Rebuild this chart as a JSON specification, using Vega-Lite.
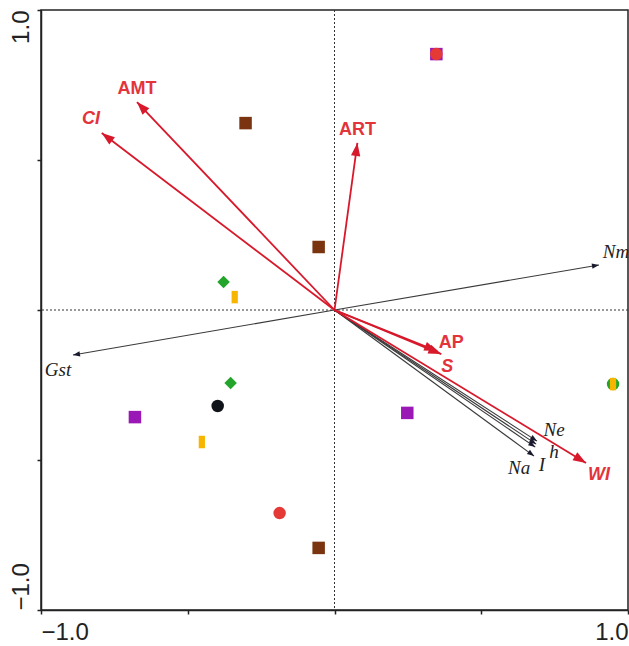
{
  "$schema": "https://vega.github.io/schema/vega-lite/v6.json",
  "width": 587,
  "height": 600,
  "autosize": {"type": "none"},
  "padding": {"left": 41, "top": 10, "right": 1, "bottom": 36},
  "config": {
    "view": {"stroke": "#222", "strokeWidth": 1.5},
    "axis": {
      "grid": false,
      "domainColor": "#222",
      "domainWidth": 1.5,
      "tickColor": "#222",
      "tickWidth": 1.5,
      "tickSize": 4,
      "labelFont": "Liberation Sans",
      "labelFontSize": 24,
      "labelColor": "#222",
      "labelOverlap": false,
      "title": null
    }
  },
  "datasets": {
    "env": [
      {"name": "AMT", "x": -0.673, "y": 0.693, "lx": -0.673, "ly": 0.737},
      {"name": "CI", "x": -0.793, "y": 0.59, "lx": -0.83, "ly": 0.637},
      {"name": "ART", "x": 0.078, "y": 0.557, "lx": 0.078, "ly": 0.6},
      {"name": "AP", "x": 0.364, "y": -0.147, "lx": 0.398, "ly": -0.11},
      {"name": "S", "x": 0.35, "y": -0.137, "lx": 0.384, "ly": -0.19},
      {"name": "WI", "x": 0.857, "y": -0.51, "lx": 0.901, "ly": -0.55}
    ],
    "gen": [
      {"name": "Nm", "x": 0.901, "y": 0.15, "lx": 0.959, "ly": 0.193},
      {"name": "Gst", "x": -0.891, "y": -0.15, "lx": -0.942, "ly": -0.2},
      {"name": "Ne", "x": 0.69, "y": -0.437, "lx": 0.748, "ly": -0.4},
      {"name": "h", "x": 0.687, "y": -0.447, "lx": 0.748, "ly": -0.473},
      {"name": "I", "x": 0.684, "y": -0.457, "lx": 0.707, "ly": -0.517},
      {"name": "Na", "x": 0.68, "y": -0.487, "lx": 0.629, "ly": -0.527}
    ],
    "samples": [
      {"g": "purpleSq", "x": 0.347, "y": 0.853},
      {"g": "redCirc", "x": 0.347, "y": 0.853},
      {"g": "brownSq", "x": -0.303, "y": 0.623},
      {"g": "brownSq", "x": -0.054, "y": 0.21},
      {"g": "greenDia", "x": -0.378, "y": 0.093},
      {"g": "yellowBar", "x": -0.34, "y": 0.043},
      {"g": "greenDia", "x": -0.354, "y": -0.243},
      {"g": "blackCirc", "x": -0.398, "y": -0.32},
      {"g": "purpleSq", "x": -0.68, "y": -0.357},
      {"g": "yellowBar", "x": -0.452, "y": -0.44},
      {"g": "purpleSq", "x": 0.248, "y": -0.343},
      {"g": "greenCirc", "x": 0.949, "y": -0.247},
      {"g": "yellowBar", "x": 0.949, "y": -0.247},
      {"g": "redCirc", "x": -0.187, "y": -0.677},
      {"g": "brownSq", "x": -0.054, "y": -0.793}
    ]
  },
  "layer": [
    {
      "data": {"values": [{"v": 0}]},
      "mark": {"type": "rule", "strokeDash": [2, 2], "color": "#333", "strokeWidth": 1},
      "encoding": {
        "x": {"field": "v", "type": "quantitative", "scale": {"domain": [-1, 1], "nice": false, "zero": false},
          "axis": {"values": [-1, -0.5, 0, 0.5, 1], "labelExpr": "datum.value == -1 || datum.value == 1 ? format(datum.value, '.1f') : ''", "labelFlush": true, "labelPadding": 6}}
      }
    },
    {
      "data": {"values": [{"v": 0}]},
      "mark": {"type": "rule", "strokeDash": [2, 2], "color": "#333", "strokeWidth": 1},
      "encoding": {
        "y": {"field": "v", "type": "quantitative", "scale": {"domain": [-1, 1], "nice": false, "zero": false},
          "axis": {"values": [-1, -0.5, 0, 0.5, 1], "labelExpr": "datum.value == -1 || datum.value == 1 ? format(datum.value, '.1f') : ''", "labelFlush": false, "labelAngle": -90, "labelBaseline": "alphabetic", "labelAlign": {"condition": {"test": "datum.value > 0", "value": "right"}, "value": "left"}, "labelPadding": 9}}
      }
    },
    {
      "data": {"name": "gen"},
      "mark": {"type": "rule", "color": "#3a3a3a", "strokeWidth": 1.1},
      "encoding": {
        "x": {"field": "x", "type": "quantitative"},
        "y": {"field": "y", "type": "quantitative"},
        "x2": {"datum": 0},
        "y2": {"datum": 0}
      }
    },
    {
      "data": {"name": "gen"},
      "transform": [{"calculate": "atan2(datum.x * 294, datum.y * 300) * 180 / PI", "as": "ang"}],
      "mark": {"type": "point", "shape": "M0,0L0.38,1L-0.38,1Z", "filled": true, "color": "#1a1a2e", "opacity": 1, "size": 196},
      "encoding": {
        "x": {"field": "x", "type": "quantitative"},
        "y": {"field": "y", "type": "quantitative"},
        "angle": {"field": "ang", "type": "quantitative", "scale": null}
      }
    },
    {
      "data": {"name": "env"},
      "mark": {"type": "rule", "color": "#d7192b", "strokeWidth": 1.8},
      "encoding": {
        "x": {"field": "x", "type": "quantitative"},
        "y": {"field": "y", "type": "quantitative"},
        "x2": {"datum": 0},
        "y2": {"datum": 0}
      }
    },
    {
      "data": {"name": "env"},
      "transform": [{"calculate": "atan2(datum.x * 294, datum.y * 300) * 180 / PI", "as": "ang"}],
      "mark": {"type": "point", "shape": "M0,0L0.36,1L-0.36,1Z", "filled": true, "color": "#d7192b", "opacity": 1, "size": 676},
      "encoding": {
        "x": {"field": "x", "type": "quantitative"},
        "y": {"field": "y", "type": "quantitative"},
        "angle": {"field": "ang", "type": "quantitative", "scale": null}
      }
    },
    {
      "data": {"name": "samples"},
      "mark": {"type": "point", "filled": true, "opacity": 1, "strokeWidth": 0},
      "encoding": {
        "x": {"field": "x", "type": "quantitative"},
        "y": {"field": "y", "type": "quantitative"},
        "shape": {"field": "g", "type": "nominal", "legend": null,
          "scale": {"domain": ["brownSq", "purpleSq", "greenDia", "yellowBar", "blackCirc", "redCirc", "greenCirc"],
            "range": ["square", "square", "diamond", "M-0.5,-1H0.5V1H-0.5Z", "circle", "circle", "circle"]}},
        "color": {"field": "g", "type": "nominal", "legend": null,
          "scale": {"domain": ["brownSq", "purpleSq", "greenDia", "yellowBar", "blackCirc", "redCirc", "greenCirc"],
            "range": ["#7a3510", "#9a18b5", "#22a52a", "#f7b500", "#10131a", "#e53935", "#22a52a"]}},
        "size": {"field": "g", "type": "nominal", "legend": null,
          "scale": {"domain": ["brownSq", "purpleSq", "greenDia", "yellowBar", "blackCirc", "redCirc", "greenCirc"],
            "range": [156, 156, 150, 169, 144, 144, 121]}}
      }
    },
    {
      "data": {"name": "env"},
      "transform": [{"filter": "indexof(['CI', 'S', 'WI'], datum.name) < 0"}],
      "mark": {"type": "text", "font": "Liberation Sans", "fontSize": 18, "fontWeight": "bold", "color": "#e3343c", "align": "center", "baseline": "middle"},
      "encoding": {
        "x": {"field": "lx", "type": "quantitative"},
        "y": {"field": "ly", "type": "quantitative"},
        "text": {"field": "name"}
      }
    },
    {
      "data": {"name": "env"},
      "transform": [{"filter": "indexof(['CI', 'S', 'WI'], datum.name) >= 0"}],
      "mark": {"type": "text", "font": "Liberation Sans", "fontSize": 18, "fontWeight": "bold", "fontStyle": "italic", "color": "#e3343c", "align": "center", "baseline": "middle"},
      "encoding": {
        "x": {"field": "lx", "type": "quantitative"},
        "y": {"field": "ly", "type": "quantitative"},
        "text": {"field": "name"}
      }
    },
    {
      "data": {"name": "gen"},
      "mark": {"type": "text", "font": "Liberation Serif", "fontSize": 19, "fontStyle": "italic", "color": "#222", "align": "center", "baseline": "middle"},
      "encoding": {
        "x": {"field": "lx", "type": "quantitative"},
        "y": {"field": "ly", "type": "quantitative"},
        "text": {"field": "name"}
      }
    }
  ]
}
